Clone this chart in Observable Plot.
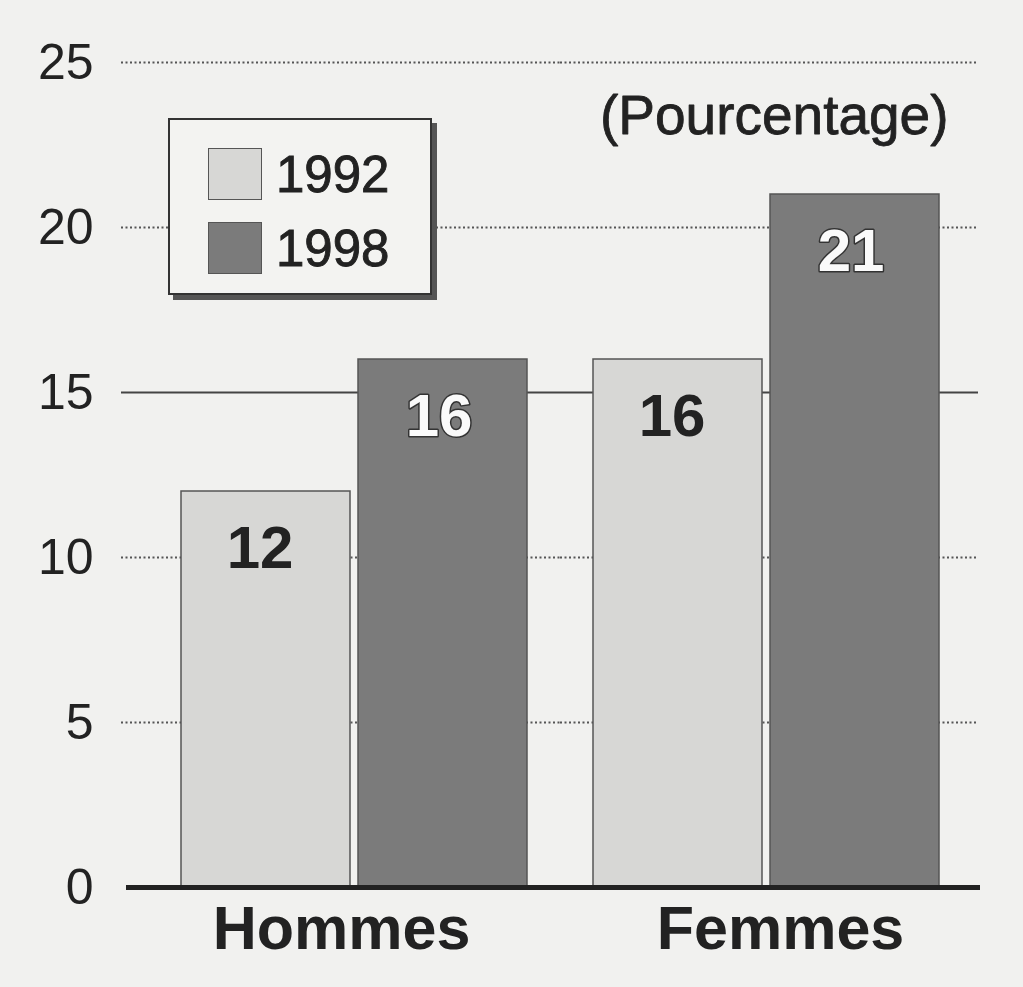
<!DOCTYPE html>
<html>
<head>
<meta charset="utf-8">
<script src="https://cdn.jsdelivr.net/npm/d3@7"></script>
<script src="https://cdn.jsdelivr.net/npm/@observablehq/plot@0.6"></script>
<style>
  html, body { margin: 0; padding: 0; background: #f1f1ef; }
  #wrap { position: relative; width: 1023px; height: 987px; font-family: "Liberation Sans", Arial, sans-serif; }
  #legend {
    position: absolute; left: 168px; top: 118px; width: 264px; height: 177px;
    box-sizing: border-box; border: 2px solid #333; background: #f3f3f1;
    box-shadow: 5px 5px 0 #555;
  }
  .item { position: absolute; left: 38px; display: flex; align-items: center; }
  .sw { width: 54px; height: 52px; box-sizing: border-box; border: 1.5px solid #555; }
  .lab { margin-left: 14px; font-size: 51px; color: #222; line-height: 1; -webkit-text-stroke: 0.9px #222; }
</style>
</head>
<body>
<div id="wrap"></div>
<script>
// ---- data ----
const categories = ["Hommes", "Femmes"];
const years = ["1992", "1998"];
const values1992 = [12, 16];
const values1998 = [16, 21];
const yTicks = [0, 5, 10, 15, 20, 25];
const dottedGrid = [5, 10, 20, 25];
const solidGrid = [15];
const baseline = [0];
const unitLabel = "(Pourcentage)";
const colors = ["#d7d7d5", "#7b7b7b"];

const data = [];
categories.forEach((c, i) => {
  data.push({category: c, year: years[0], value: values1992[i]});
  data.push({category: c, year: years[1], value: values1998[i]});
});
const gridFor = (arr, cat) => arr.map(v => ({category: cat, v}));

const font = "Liberation Sans, Arial, sans-serif";

const chart = Plot.plot({
  width: 1023,
  height: 987,
  marginLeft: 147,
  marginRight: 51,
  marginTop: 62,
  marginBottom: 100,
  style: {background: "transparent", fontFamily: font, color: "#222"},
  fx: {domain: categories, paddingInner: 0, paddingOuter: 0, axis: null, label: null},
  x: {domain: years, paddingInner: 0.045, paddingOuter: 0.18, axis: null, label: null},
  y: {domain: [0, 25], label: null},
  color: {domain: years, range: colors},
  marks: [
    Plot.ruleY(gridFor(dottedGrid, categories[0]), {fx: "category", y: "v", stroke: "#555", strokeWidth: 1.8, strokeDasharray: "2,2.5", insetLeft: -27}),
    Plot.ruleY(gridFor(dottedGrid, categories[1]), {fx: "category", y: "v", stroke: "#555", strokeWidth: 1.8, strokeDasharray: "2,2.5", insetRight: -6}),
    Plot.ruleY(gridFor(solidGrid, categories[0]), {fx: "category", y: "v", stroke: "#444", strokeWidth: 2, insetLeft: -27}),
    Plot.ruleY(gridFor(solidGrid, categories[1]), {fx: "category", y: "v", stroke: "#444", strokeWidth: 2, insetRight: -6}),
    Plot.barY(data, {fx: "category", x: "year", y: "value", fill: "year", stroke: "#555", strokeWidth: 1.5}),
    Plot.ruleY(gridFor(baseline, categories[0]), {fx: "category", y: "v", stroke: "#222", strokeWidth: 5, insetLeft: -22}),
    Plot.ruleY(gridFor(baseline, categories[1]), {fx: "category", y: "v", stroke: "#222", strokeWidth: 5, insetRight: -8}),
    Plot.text(data.filter(d => d.year === years[0]), {
      fx: "category", x: "year", y: "value", text: d => String(d.value), dy: 57, dx: -6,
      fill: "#222", fontSize: 60, fontWeight: "bold", fontFamily: font
    }),
    Plot.text(data.filter(d => d.year === years[1]), {
      fx: "category", x: "year", y: "value", text: d => String(d.value), dy: 57, dx: -4,
      fill: "#fafafa", stroke: "#333", strokeWidth: 3, paintOrder: "stroke",
      fontSize: 60, fontWeight: "bold", fontFamily: font
    }),
    Plot.axisY({ticks: yTicks, tickSize: 0, tickPadding: 55, fontSize: 50, label: null, tickFormat: d => String(d), fill: "#222", stroke: "#222", strokeWidth: 0.9}),
    Plot.text([{category: categories[0]}], {fx: "category", text: "category", frameAnchor: "bottom", dy: 61, dx: -13, fontSize: 61, fontWeight: "bold", fill: "#222", fontFamily: font}),
    Plot.text([{category: categories[1]}], {fx: "category", text: "category", frameAnchor: "bottom", dy: 61, dx: 14, fontSize: 61, fontWeight: "bold", fill: "#222", fontFamily: font}),
    Plot.text([{category: categories[1], label: unitLabel}], {fx: "category", text: "label", frameAnchor: "top-right", textAnchor: "end", dx: -24, dy: 52 - 20, fontSize: 55, fill: "#222", stroke: "#222", strokeWidth: 0.8, fontFamily: font})
  ]
});

const wrap = document.getElementById("wrap");
wrap.appendChild(chart);

const legend = document.createElement("div");
legend.id = "legend";
years.forEach((y, i) => {
  const item = document.createElement("div");
  item.className = "item";
  item.style.top = (28 + i * 74) + "px";
  const sw = document.createElement("div");
  sw.className = "sw";
  sw.style.background = colors[i];
  const lab = document.createElement("span");
  lab.className = "lab";
  lab.textContent = y;
  item.appendChild(sw);
  item.appendChild(lab);
  legend.appendChild(item);
});
wrap.appendChild(legend);
</script>
</body>
</html>
